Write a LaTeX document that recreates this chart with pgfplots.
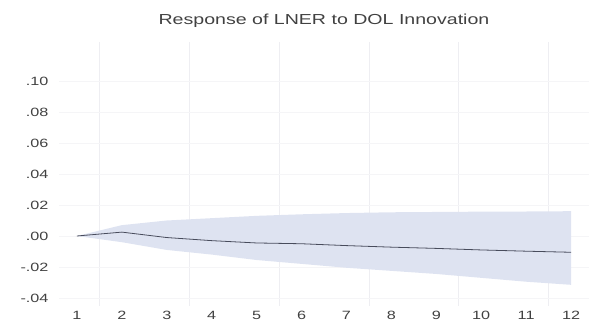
\documentclass[border=0pt]{standalone}
\usepackage{pgfplots}
\pgfplotsset{compat=1.18}
\usepgfplotslibrary{fillbetween}
\usepackage{fontspec}
\setmainfont{Liberation Sans}[FakeStretch=1.35]
\definecolor{bandcol}{RGB}{222,227,241}
\definecolor{linecol}{RGB}{72,76,92}
\definecolor{gridcol}{RGB}{238,238,242}
\definecolor{txtcol}{RGB}{65,65,65}
\begin{document}
\begin{tikzpicture}
\begin{axis}[
  scale only axis,
  width=530pt, height=263.5pt,
  xmin=0.6, xmax=12.4,
  ymin=-0.045, ymax=0.125,
  axis line style={draw=none},
  tick style={draw=none},
  xtick={1,2,3,4,5,6,7,8,9,10,11,12},
  minor xtick={1.5,3.5,5.5,7.5,9.5,11.5},
  xminorgrids=true,
  minor grid style={color=gridcol, line width=0.6pt},
  ytick={-0.04,-0.02,0,0.02,0.04,0.06,0.08,0.10},
  yticklabels={-.04,-.02,.00,.02,.04,.06,.08,.10},
  ymajorgrids=true,
  major grid style={color=gridcol!60, line width=0.5pt},
  /pgf/number format/assume math mode=true,
  ticklabel style={font=\fontsize{12}{14}\selectfont, text=txtcol},
  yticklabel shift=7pt,
  xticklabel shift=2pt,
  title={Response of LNER to DOL Innovation},
  title style={at={(0.5,1)}, anchor=base, yshift=11.25pt, font=\fontsize{14.5}{17}\selectfont, text=txtcol},
  clip=false,
]
\addplot[name path=up, draw=none] coordinates {
 (1,0) (2,0.007) (3,0.010) (4,0.0115) (5,0.013) (6,0.014) (7,0.0148) (8,0.0153) (9,0.0155) (10,0.0157) (11,0.0158) (12,0.016)
};
\addplot[name path=lo, draw=none] coordinates {
 (1,0) (2,-0.004) (3,-0.009) (4,-0.012) (5,-0.0155) (6,-0.018) (7,-0.0205) (8,-0.0225) (9,-0.0245) (10,-0.027) (11,-0.0295) (12,-0.0315)
};
\addplot[fill=bandcol, draw=none] fill between[of=up and lo];
\addplot[color=linecol, line width=0.8pt, mark=none] coordinates {
 (1,0) (2,0.0025) (3,-0.001) (4,-0.003) (5,-0.0045) (6,-0.005) (7,-0.0062) (8,-0.0072) (9,-0.008) (10,-0.009) (11,-0.0098) (12,-0.0105)
};
\coordinate (ll) at (rel axis cs:0,0);
\coordinate (ur) at (rel axis cs:1,1);
\end{axis}
\pgfresetboundingbox
\path[use as bounding box] ([xshift=-59pt,yshift=-27.25pt]ll) rectangle ([xshift=5pt,yshift=42.25pt]ur);
\end{tikzpicture}
\end{document}
